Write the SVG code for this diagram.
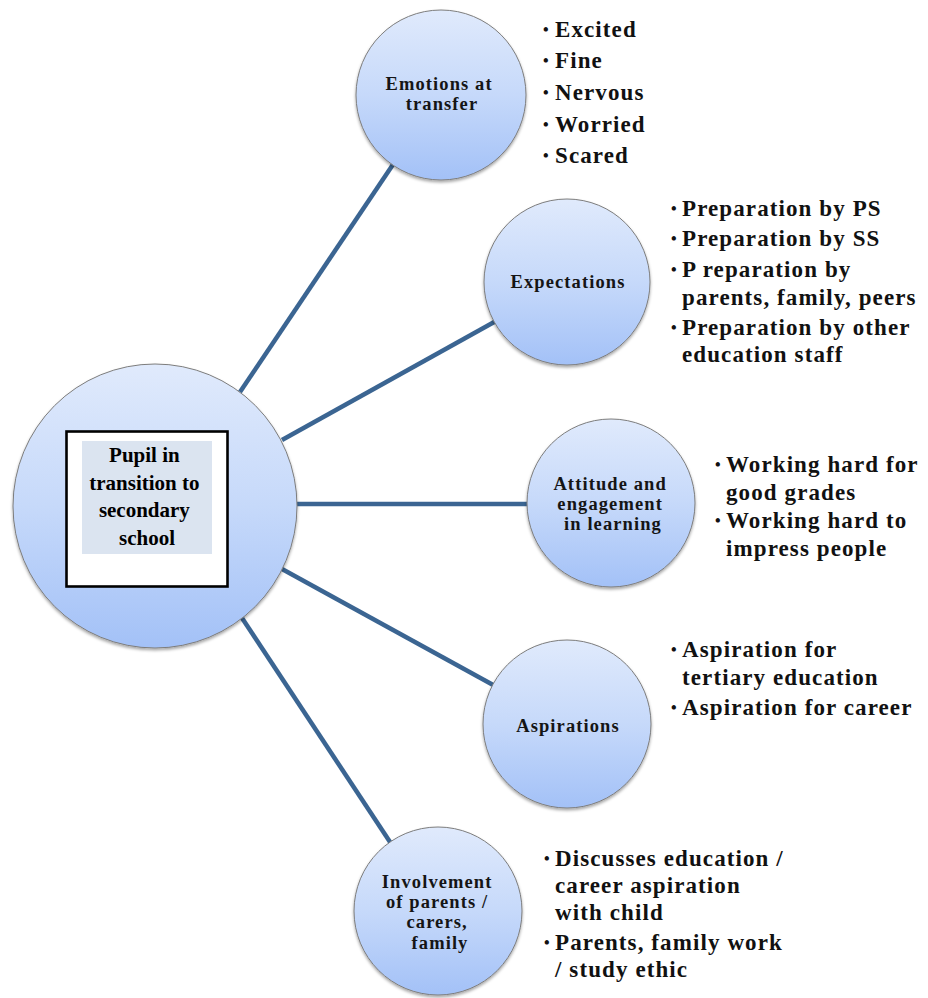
<svg xmlns="http://www.w3.org/2000/svg" width="928" height="998" viewBox="0 0 928 998">
  <defs>
    <linearGradient id="bubble" x1="0" y1="0" x2="0" y2="1">
      <stop offset="0" stop-color="#e0eafc"/>
      <stop offset="0.5" stop-color="#c6d9fa"/>
      <stop offset="1" stop-color="#a3c1f7"/>
    </linearGradient>
    <filter id="shadow" x="-20%" y="-20%" width="140%" height="140%">
      <feDropShadow dx="0" dy="2" stdDeviation="1.8" flood-color="#000" flood-opacity="0.35"/>
    </filter>
  </defs>
  <style>
    .bubble { fill: url(#bubble); stroke: #7d7d7d; stroke-width: 1; filter: url(#shadow); }
    .link { stroke: #3b6592; stroke-width: 4.5; fill: none; }
    .lbl { font-family: "Liberation Serif", "Times New Roman", serif; font-weight: bold; font-size: 18.5px; letter-spacing: 1.1px; text-anchor: middle; fill: #151515; }
    .hub { font-family: "Liberation Serif", "Times New Roman", serif; font-weight: bold; font-size: 21px; text-anchor: middle; fill: #000; }
    .item { font-family: "Liberation Serif", "Times New Roman", serif; font-weight: bold; font-size: 23px; letter-spacing: 1.1px; fill: #111; }
    .dot { font-size: 16px; letter-spacing: 0; }
  </style>

  <rect width="928" height="998" fill="#fff"/>

  <!-- connectors from the hub to each theme -->
  <g id="connectors">
    <line class="link" x1="240" y1="392" x2="394" y2="163"/>
    <line class="link" x1="282" y1="440" x2="496" y2="321"/>
    <line class="link" x1="297" y1="504" x2="530" y2="504"/>
    <line class="link" x1="282" y1="569" x2="495" y2="686"/>
    <line class="link" x1="242" y1="618" x2="392" y2="845"/>
  </g>

  <!-- hub -->
  <g id="hub">
    <circle class="bubble" cx="155" cy="506" r="142"/>
    <rect x="66.5" y="431.5" width="161" height="155" fill="#fff" stroke="#000" stroke-width="2.6"/>
    <rect x="82" y="441" width="130" height="113" fill="#dbe4f0"/>
    <text class="hub">
      <tspan x="147" y="462">Pupil in</tspan>
      <tspan x="147" y="490">transition to</tspan>
      <tspan x="147" y="517">secondary</tspan>
      <tspan x="147" y="545">school</tspan>
    </text>
  </g>

  <!-- Emotions at transfer -->
  <g id="emotions">
    <circle class="bubble" cx="441" cy="95" r="85"/>
    <text class="lbl">
      <tspan x="442" y="90">Emotions at</tspan>
      <tspan x="442" y="110">transfer</tspan>
    </text>
    <text class="item">
      <tspan class="dot" x="543" y="35">•</tspan><tspan x="555" y="37">Excited</tspan>
      <tspan class="dot" x="543" y="66">•</tspan><tspan x="555" y="68">Fine</tspan>
      <tspan class="dot" x="543" y="98">•</tspan><tspan x="555" y="100">Nervous</tspan>
      <tspan class="dot" x="543" y="130">•</tspan><tspan x="555" y="132">Worried</tspan>
      <tspan class="dot" x="543" y="161">•</tspan><tspan x="555" y="163">Scared</tspan>
    </text>
  </g>

  <!-- Expectations -->
  <g id="expectations">
    <circle class="bubble" cx="567" cy="282" r="83"/>
    <text class="lbl"><tspan x="568" y="288">Expectations</tspan></text>
    <text class="item">
      <tspan class="dot" x="671" y="214">•</tspan><tspan x="682" y="216">Preparation by PS</tspan>
      <tspan class="dot" x="671" y="244">•</tspan><tspan x="682" y="246">Preparation by SS</tspan>
      <tspan class="dot" x="671" y="275">•</tspan><tspan x="682" y="277">P reparation by</tspan>
      <tspan x="682" y="305">parents, family, peers</tspan>
      <tspan class="dot" x="671" y="333">•</tspan><tspan x="682" y="335">Preparation by other</tspan>
      <tspan x="682" y="362">education staff</tspan>
    </text>
  </g>

  <!-- Attitude and engagement in learning -->
  <g id="attitude">
    <circle class="bubble" cx="611" cy="503" r="84"/>
    <text class="lbl">
      <tspan x="613" y="490">Attitude and</tspan>
      <tspan x="613" y="510">engagement</tspan>
      <tspan x="613" y="530">in learning</tspan>
    </text>
    <text class="item">
      <tspan class="dot" x="715" y="470">•</tspan><tspan x="726" y="472">Working hard for</tspan>
      <tspan x="726" y="500">good grades</tspan>
      <tspan class="dot" x="715" y="526">•</tspan><tspan x="726" y="528">Working hard to</tspan>
      <tspan x="726" y="556">impress people</tspan>
    </text>
  </g>

  <!-- Aspirations -->
  <g id="aspirations">
    <circle class="bubble" cx="567" cy="724" r="84"/>
    <text class="lbl"><tspan x="568" y="732">Aspirations</tspan></text>
    <text class="item">
      <tspan class="dot" x="671" y="655">•</tspan><tspan x="682" y="657">Aspiration for</tspan>
      <tspan x="682" y="685">tertiary education</tspan>
      <tspan class="dot" x="671" y="713">•</tspan><tspan x="682" y="715">Aspiration for career</tspan>
    </text>
  </g>

  <!-- Involvement of parents / carers, family -->
  <g id="involvement">
    <circle class="bubble" cx="438" cy="911" r="84"/>
    <text class="lbl">
      <tspan x="440" y="888">Involvement</tspan>
      <tspan x="440" y="908">of parents /</tspan>
      <tspan x="440" y="928">carers,</tspan>
      <tspan x="440" y="949">family</tspan>
    </text>
    <text class="item">
      <tspan class="dot" x="544" y="864">•</tspan><tspan x="555" y="866">Discusses education /</tspan>
      <tspan x="555" y="893">career aspiration</tspan>
      <tspan x="555" y="920">with child</tspan>
      <tspan class="dot" x="544" y="948">•</tspan><tspan x="555" y="950">Parents, family work</tspan>
      <tspan x="555" y="977">/ study ethic</tspan>
    </text>
  </g>
</svg>
